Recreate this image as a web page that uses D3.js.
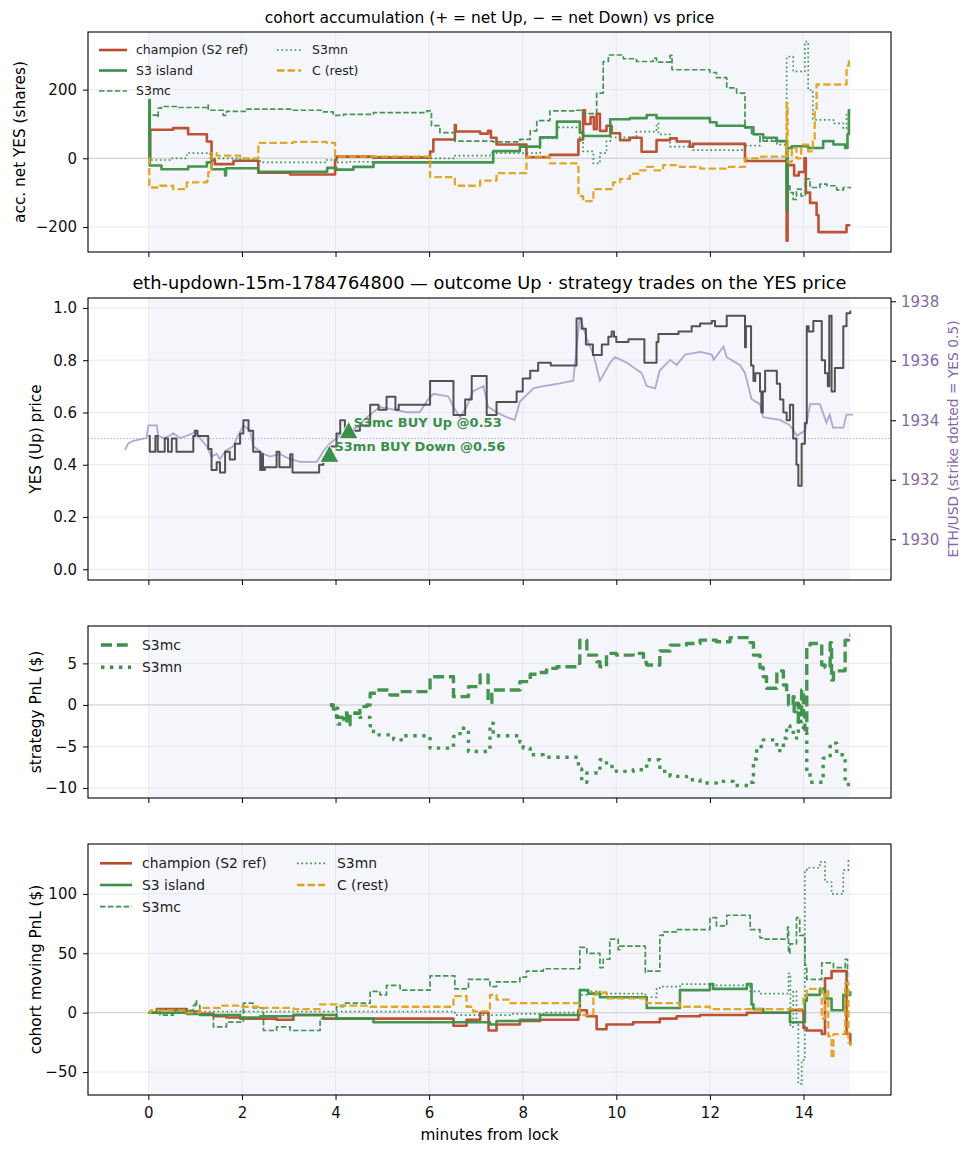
<!DOCTYPE html>
<html>
<head>
<meta charset="utf-8">
<script src="https://cdn.jsdelivr.net/npm/d3@7"></script>
<style>
    body { margin: 0; background: #fff; }
    text { font-family: "DejaVu Sans", sans-serif; }
</style>
</head>
<body>
<div id="chart"></div>
<script>
// ---- data (minutes from lock, value) ----
const minuteTicks = [0, 2, 4, 6, 8, 10, 12, 14];
const cohortNames = ['champion (S2 ref)', 'S3 island', 'S3mc', 'S3mn', 'C (rest)'];

// panel 1: accumulated net YES shares
const accChampion = [[0,0],[0.04,83],[0.53,88],[0.85,70],[1.25,49],[1.35,-5],[1.42,-17],[1.82,-7],[2.35,-42],[3.03,-47],[3.99,-5],[4.02,5],[4.81,2],[6.02,20],[6.09,55],[6.55,97],[6.57,78],[7.09,72],[7.26,80],[7.32,60],[7.44,40],[8.08,3],[8.58,10],[9.19,55],[9.29,140],[9.33,100],[9.45,120],[9.52,85],[9.58,130],[9.65,80],[9.79,95],[9.90,73],[10.08,53],[10.29,60],[10.54,19],[10.86,53],[11.15,58],[11.29,49],[11.57,34],[11.64,42],[12.75,-8],[13.64,-240],[13.66,-20],[13.80,-50],[13.90,-40],[14.02,0],[14.05,-100],[14.14,-130],[14.28,-165],[14.32,-215],[14.92,-195],[15.0,-195]];
const accIsland = [[0,0],[0.02,170],[0.03,-21],[0.28,-32],[0.85,-24],[1.25,-12],[1.35,-32],[1.64,-50],[1.66,-29],[2.35,-39],[3.82,-28],[4.02,-33],[4.38,-25],[4.81,-12],[7.37,21],[7.94,34],[8.37,61],[8.73,107],[9.22,75],[9.29,65],[9.87,114],[10.29,117],[10.65,126],[10.86,117],[12.0,105],[12.14,95],[12.75,90],[12.93,70],[13.14,60],[13.43,50],[13.64,-150],[13.66,30],[13.75,35],[14.10,30],[14.42,50],[14.64,40],[14.89,30],[14.94,70],[14.97,140],[15.0,140]];
const accS3mc = [[0,0],[0.03,126],[0.18,120],[0.21,146],[0.28,151],[0.60,148],[1.25,155],[1.28,140],[1.60,125],[1.67,137],[2.10,143],[3.10,140],[3.74,135],[3.95,125],[4.17,128],[4.81,133],[5.95,138],[6.05,95],[6.23,75],[6.55,50],[7.37,48],[7.94,55],[8.16,80],[8.30,110],[8.58,138],[9.15,140],[9.29,130],[9.58,190],[9.72,282],[9.83,301],[10.15,290],[10.43,282],[10.79,292],[10.86,280],[11.15,300],[11.19,258],[12.0,250],[12.14,235],[12.36,205],[12.57,190],[12.75,90],[12.89,70],[13.07,50],[13.64,-80],[13.71,-100],[13.78,-120],[13.85,-90],[13.95,-110],[14.04,-60],[14.14,-85],[14.35,-75],[14.50,-80],[14.71,-92],[14.85,-85],[15.0,-83]];
const accS3mn = [[0,0],[0.04,-5],[0.46,0],[0.82,15],[1.32,0],[1.96,-5],[2.39,-12],[3.81,-5],[4.02,-12],[4.31,-10],[4.81,5],[5.95,0],[6.55,8],[7.30,15],[8.37,58],[8.73,90],[9.22,50],[9.29,20],[9.51,-15],[9.65,15],[9.79,50],[9.87,61],[10.43,78],[10.86,102],[10.90,70],[11.15,34],[11.64,24],[12.75,37],[13.07,53],[13.43,40],[13.64,296],[13.78,253],[14.03,340],[14.10,199],[14.20,112],[14.64,102],[14.85,87],[14.92,131],[15.0,131]];
const accC = [[0,0],[0.02,-85],[0.25,-80],[0.53,-90],[0.82,-70],[1.25,-65],[1.28,-40],[1.35,15],[1.46,8],[1.96,0],[2.35,45],[3.10,48],[3.81,45],[3.99,5],[6.02,-55],[6.55,-80],[7.09,-65],[7.44,-43],[8.08,5],[8.58,-15],[9.19,-110],[9.29,-125],[9.51,-90],[9.93,-70],[10.08,-60],[10.29,-45],[10.50,-35],[10.65,-25],[10.79,-35],[11.0,-20],[11.36,-25],[11.79,-30],[12.36,-25],[12.75,0],[13.07,5],[13.64,160],[13.66,-10],[13.75,30],[13.85,0],[13.95,40],[14.10,20],[14.20,50],[14.24,140],[14.28,215],[14.92,270],[14.97,290],[15.0,290]];

// panel 2: YES price and ETH/USD
const yesPrice = [[0,0.51],[0.03,0.45],[0.15,0.51],[0.20,0.45],[0.35,0.50],[0.42,0.45],[0.50,0.50],[0.60,0.45],[0.96,0.51],[1.0,0.53],[1.05,0.51],[1.28,0.46],[1.35,0.38],[1.46,0.41],[1.53,0.37],[1.64,0.45],[1.74,0.42],[1.85,0.48],[1.96,0.52],[2.03,0.57],[2.14,0.53],[2.24,0.45],[2.39,0.38],[2.42,0.44],[2.45,0.38],[2.49,0.39],[2.74,0.45],[2.80,0.39],[3.03,0.44],[3.08,0.37],[3.65,0.40],[3.74,0.43],[3.88,0.47],[4.02,0.52],[4.10,0.57],[4.20,0.53],[4.52,0.55],[4.74,0.63],[4.92,0.61],[5.09,0.66],[5.28,0.61],[5.35,0.63],[6.02,0.72],[6.52,0.59],[6.77,0.65],[6.91,0.74],[7.23,0.59],[7.44,0.64],[7.87,0.68],[8.0,0.73],[8.16,0.76],[8.33,0.79],[8.60,0.78],[9.15,0.96],[9.26,0.92],[9.35,0.86],[9.50,0.82],[9.69,0.86],[9.83,0.89],[9.90,0.91],[9.95,0.89],[10.0,0.87],[10.26,0.88],[10.60,0.79],[10.86,0.87],[10.90,0.90],[11.33,0.91],[11.61,0.93],[11.79,0.94],[12.04,0.95],[12.11,0.93],[12.36,0.97],[12.75,0.85],[12.77,0.93],[12.88,0.78],[12.93,0.72],[12.97,0.75],[13.07,0.68],[13.10,0.60],[13.13,0.68],[13.18,0.76],[13.43,0.71],[13.50,0.65],[13.57,0.60],[13.64,0.57],[13.71,0.63],[13.78,0.50],[13.85,0.40],[13.89,0.32],[13.96,0.48],[14.03,0.56],[14.07,0.93],[14.11,0.91],[14.21,0.95],[14.39,0.80],[14.46,0.75],[14.52,0.70],[14.55,0.97],[14.60,0.68],[14.67,0.77],[14.85,0.93],[14.92,0.98],[15.0,0.99]];
const ethUsd = [[-0.50,1933.00],[-0.43,1933.22],[-0.32,1933.31],[-0.04,1933.40],[0.0,1933.83],[0.18,1933.83],[0.21,1933.48],[0.32,1933.40],[0.46,1933.48],[0.53,1933.57],[0.68,1933.40],[0.82,1933.48],[0.96,1933.57],[1.0,1933.66],[1.10,1933.40],[1.25,1933.13],[1.35,1932.78],[1.46,1932.87],[1.53,1932.69],[1.64,1932.96],[1.82,1933.13],[1.89,1933.40],[2.03,1933.83],[2.17,1933.66],[2.24,1933.13],[2.46,1932.87],[2.60,1932.78],[2.81,1932.87],[3.03,1932.69],[3.24,1932.60],[3.60,1932.60],[3.74,1932.96],[3.88,1933.22],[4.02,1933.40],[4.24,1933.66],[4.45,1933.75],[4.67,1934.10],[4.95,1934.45],[5.24,1934.36],[5.52,1934.27],[5.80,1934.27],[5.98,1934.71],[6.09,1934.89],[6.41,1934.80],[6.52,1934.45],[6.66,1934.10],[6.80,1934.45],[6.94,1934.98],[7.16,1935.15],[7.26,1934.45],[7.44,1934.27],[7.66,1934.10],[7.83,1934.01],[7.94,1934.63],[8.23,1935.07],[8.44,1935.15],[8.80,1935.24],[9.08,1935.33],[9.22,1937.48],[9.37,1936.74],[9.51,1936.21],[9.65,1935.33],[9.87,1935.94],[9.97,1936.12],[10.22,1935.94],[10.54,1935.59],[10.65,1935.15],[10.83,1935.07],[10.93,1935.68],[11.15,1936.03],[11.29,1935.86],[11.47,1936.21],[11.80,1936.30],[12.04,1936.21],[12.08,1936.03],[12.29,1936.47],[12.36,1936.12],[12.64,1935.86],[12.75,1935.59],[12.89,1934.71],[13.07,1934.54],[13.14,1934.10],[13.50,1934.01],[13.71,1933.83],[13.86,1933.48],[14.04,1933.66],[14.14,1934.54],[14.35,1934.54],[14.49,1933.92],[14.56,1934.19],[14.63,1933.75],[14.85,1933.75],[14.92,1934.19],[15.06,1934.19]];
const strikeYes = 0.5;
const trades = [
    { t: 3.87, p: 0.44, label: 'S3mn BUY Down @0.56' },
    { t: 4.28, p: 0.53, label: 'S3mc BUY Up @0.53' }
];

// panel 3: strategy PnL ($)
const pnlStratS3mc = [[3.88,0],[3.95,-0.5],[4.02,-1.5],[4.17,-1.0],[4.24,-2.4],[4.31,-1.0],[4.52,-0.2],[4.67,0],[4.74,1.4],[4.88,1.8],[5.16,1.2],[5.38,1.6],[6.02,3.4],[6.52,1.0],[6.84,2.2],[7.09,3.6],[7.26,0.3],[7.34,1.8],[7.94,2.8],[8.16,3.7],[8.30,3.9],[8.51,4.4],[8.73,4.6],[9.15,5.0],[9.22,7.8],[9.37,6.0],[9.58,5.2],[9.65,4.6],[9.79,6.2],[10.0,6.0],[10.36,6.2],[10.58,5.1],[10.65,4.8],[10.93,6.5],[11.15,7.2],[11.50,7.4],[11.79,7.8],[12.14,7.6],[12.43,8.1],[12.86,7.5],[12.93,6.0],[13.07,4.5],[13.14,3.4],[13.21,2.0],[13.43,4.1],[13.57,2.4],[13.64,1.6],[13.68,0],[13.78,1.0],[13.80,-0.8],[13.85,0.2],[13.89,-2],[13.96,1.8],[14.0,-1],[14.03,-3],[14.07,7.0],[14.14,7.4],[14.39,4.8],[14.46,4.5],[14.57,7.5],[14.60,3.0],[14.64,4.1],[14.89,7.8],[14.96,8.4],[15.0,8.4]];
const pnlStratS3mn = [[3.88,0],[3.95,-0.4],[4.05,-2.3],[4.17,-1.0],[4.52,-1.5],[4.74,-2.5],[4.81,-3.6],[5.24,-4.2],[5.45,-3.7],[6.02,-5.2],[6.52,-3.8],[6.66,-2.8],[6.84,-5.6],[7.30,-2.2],[7.37,-3.7],[7.94,-4.5],[8.01,-5.2],[8.16,-6.0],[8.44,-6.3],[9.19,-7.7],[9.26,-9.3],[9.37,-8.2],[9.65,-6.6],[9.79,-7.4],[10.0,-8.0],[10.36,-7.8],[10.65,-6.6],[10.93,-8.0],[11.15,-8.6],[11.50,-9.0],[11.79,-9.4],[12.14,-9.2],[12.50,-9.7],[12.86,-9.3],[12.93,-6.5],[13.0,-5.0],[13.14,-4.2],[13.43,-5.5],[13.57,-4.0],[13.64,-2.5],[13.71,-3.3],[13.85,-4],[13.89,0],[13.92,-2],[14.0,-3.3],[14.07,-8.2],[14.14,-9.3],[14.42,-6.4],[14.57,-4.6],[14.71,-6.0],[14.89,-9.2],[14.96,-10.1],[15.0,-10.1]];

// panel 4: cohort moving PnL ($)
const pnlChampion = [[0,0],[0.18,3],[0.82,1],[1.10,-1],[1.39,-3],[1.67,-4],[1.96,-5],[2.74,-6],[3.10,-2],[3.74,-5],[6.52,-11],[6.80,-6],[7.09,0],[7.27,-15],[7.44,-10],[7.94,-7],[8.37,-6],[9.19,2],[9.37,-3],[9.58,-14],[9.79,-10],[10.36,-8],[10.93,-5],[11.29,-3],[11.79,-2],[12.79,0],[13.71,2],[14.0,-13],[14.07,-15],[14.39,-18],[14.46,29],[14.60,35],[14.92,-18],[15.0,-27]];
const pnlIsland = [[0,0],[0.82,-1],[1.10,-2],[1.96,-4],[2.39,-3],[3.10,-2],[4.02,-5],[4.81,-8],[7.30,-10],[7.44,-7],[7.94,-6],[8.37,-2],[9.22,19],[9.40,16],[9.65,13],[10.65,4],[11.36,19],[12.0,24],[12.07,20],[12.79,24],[12.89,7],[12.93,3],[13.14,0],[13.71,-8],[14.03,10],[14.07,15],[14.35,20],[14.46,12],[14.60,2],[14.85,15],[15.0,18]];
const pnlS3mc = [[0,0],[0.18,3],[0.25,-2],[0.53,2],[0.96,6],[1.0,10],[1.03,6],[1.10,-2],[1.39,-12],[1.67,-8],[2.03,8],[2.24,4],[2.46,-15],[2.74,-12],[3.03,-15],[3.67,-5],[4.02,5],[4.17,8],[4.74,18],[4.95,15],[5.09,23],[5.38,19],[6.02,31],[6.55,20],[6.84,28],[7.30,22],[7.44,26],[7.94,30],[8.08,35],[8.44,37],[9.22,55],[9.37,50],[9.65,38],[9.72,45],[9.86,62],[10.04,53],[10.07,56],[10.62,34],[10.65,35],[10.93,65],[11.0,68],[11.29,70],[12.0,80],[12.14,73],[12.36,82],[12.86,70],[13.07,63],[13.14,62],[13.66,72],[13.68,50],[13.71,58],[13.85,80],[13.92,65],[14.03,40],[14.07,28],[14.39,42],[14.64,38],[14.89,45],[14.94,15],[15.0,15]];
const pnlS3mn = [[0,0],[0.50,1],[2.0,1],[6.55,-2],[7.73,-1],[8.50,0],[9.22,15],[9.37,18],[9.65,16],[10.62,13],[10.86,20],[10.93,22],[11.36,24],[12.07,23],[12.86,18],[13.07,16],[13.68,33],[13.72,-12],[13.78,18],[13.85,-10],[13.89,-60],[13.96,-40],[14.03,120],[14.07,122],[14.35,127],[14.46,110],[14.60,100],[14.85,120],[14.96,128],[15.0,128]];
const pnlC = [[0,0],[0.05,2],[0.82,0],[1.10,4],[1.53,6],[1.96,5],[2.39,4],[3.10,3],[3.67,7],[4.02,6],[4.74,5],[6.52,14],[6.80,5],[6.94,1],[7.30,15],[7.44,11],[7.73,8],[9.22,-2],[9.51,15],[9.58,17],[9.79,12],[10.65,8],[11.36,5],[12.0,3],[14.0,14],[14.07,20],[14.39,-5],[14.46,18],[14.53,-20],[14.60,-38],[14.64,-18],[14.89,25],[14.96,-25],[15.0,-28]];

(function () {
    'use strict';

    const W = 973, H = 1156;
    const green = '#3b8f48';
    const styles = [
        { color: '#b84a2b', width: 2.6, dash: null },
        { color: green, width: 2.6, dash: null },
        { color: green, width: 1.7, dash: '5.5,2.4' },
        { color: green, width: 1.7, dash: '1.7,2.7' },
        { color: '#e0a21c', width: 2.3, dash: '7.4,3.2' }
    ];

    const svg = d3.select('#chart').append('svg')
        .attr('width', W).attr('height', H);

    const x = d3.scaleLinear().domain([-1.29, 15.87]).range([88, 891]);

    let clipId = 0;

    function makePanel(top, bottom, domain, ticks, fmt, label, labelX, showX) {
        const y = d3.scaleLinear().domain(domain).range([bottom, top]);
        const g = svg.append('g');

        g.append('rect')
            .attr('x', x(0)).attr('y', top)
            .attr('width', x(15) - x(0)).attr('height', bottom - top)
            .attr('fill', '#f4f6fb');

        const grid = g.append('g').attr('stroke', '#e3e5ea').attr('stroke-width', 0.8);
        grid.selectAll('line.v').data(minuteTicks).join('line')
            .attr('x1', d => x(d)).attr('x2', d => x(d))
            .attr('y1', top).attr('y2', bottom);
        grid.selectAll('line.h').data(ticks).join('line')
            .attr('x1', 88).attr('x2', 891)
            .attr('y1', d => y(d)).attr('y2', d => y(d));

        const id = 'clip' + (clipId++);
        svg.append('clipPath').attr('id', id)
            .append('rect').attr('x', 88).attr('y', top)
            .attr('width', 891 - 88).attr('height', bottom - top);
        const plot = g.append('g').attr('clip-path', `url(#${id})`);

        const yAxis = g.append('g')
            .attr('transform', 'translate(88,0)')
            .call(d3.axisLeft(y).tickValues(ticks).tickFormat(fmt).tickSize(5).tickPadding(6));
        yAxis.select('.domain').remove();
        yAxis.selectAll('text').attr('font-size', 15).attr('fill', '#111');

        const xAxis = g.append('g')
            .attr('transform', `translate(0,${bottom})`)
            .call(d3.axisBottom(x).tickValues(minuteTicks).tickSize(5).tickPadding(7)
                .tickFormat(showX ? d3.format('d') : ''));
        xAxis.select('.domain').remove();
        xAxis.selectAll('text').attr('font-size', 15).attr('fill', '#111');

        g.append('text')
            .attr('transform', `translate(${labelX},${(top + bottom) / 2}) rotate(-90)`)
            .attr('text-anchor', 'middle')
            .attr('font-size', 15.3)
            .text(label);

        return { g, plot, y, top, bottom, frame: () => g.append('rect')
            .attr('x', 88).attr('y', top).attr('width', 891 - 88).attr('height', bottom - top)
            .attr('fill', 'none').attr('stroke', '#000').attr('stroke-width', 1.1) };
    }

    function stepLine(plot, y, data, st) {
        const line = d3.line().x(d => x(d[0])).y(d => y(d[1])).curve(d3.curveStepAfter);
        plot.append('path')
            .datum(data)
            .attr('d', line)
            .attr('fill', 'none')
            .attr('stroke', st.color)
            .attr('stroke-width', st.width)
            .attr('stroke-dasharray', st.dash)
            .attr('stroke-linejoin', 'round')
            .attr('opacity', st.opacity || 0.95);
    }

    function zeroLine(p) {
        p.plot.append('line')
            .attr('x1', 88).attr('x2', 891)
            .attr('y1', p.y(0)).attr('y2', p.y(0))
            .attr('stroke', '#cfcfcf').attr('stroke-width', 1);
    }

    function legend(g, entries, top, fontSize, cols) {
        entries.forEach(e => {
            const c = cols[e.col];
            const yy = top + e.row * c.rowH;
            g.append('line')
                .attr('x1', c.x1).attr('x2', c.x2)
                .attr('y1', yy).attr('y2', yy)
                .attr('stroke', e.st.color)
                .attr('stroke-width', e.st.width)
                .attr('stroke-dasharray', e.st.dash);
            g.append('text')
                .attr('x', c.tx).attr('y', yy)
                .attr('dy', '0.35em')
                .attr('font-size', fontSize)
                .attr('fill', '#222')
                .text(e.name);
        });
    }

    const fmtInt = d3.format('d');
    const cohortSeries1 = [accChampion, accIsland, accS3mc, accS3mn, accC];
    const cohortSeries4 = [pnlChampion, pnlIsland, pnlS3mc, pnlS3mn, pnlC];
    const legendPlace = [[0, 0], [0, 1], [0, 2], [1, 0], [1, 1]];

    // ---- panel 1 ----
    const p1 = makePanel(32, 252, [-273, 368], [-200, 0, 200], fmtInt, 'acc. net YES (shares)', 25, false);
    zeroLine(p1);
    cohortSeries1.forEach((s, i) => stepLine(p1.plot, p1.y, s, styles[i]));
    p1.frame();
    legend(p1.g, cohortNames.map((n, i) => ({ name: n, st: styles[i], col: legendPlace[i][0], row: legendPlace[i][1] })),
        50, 12.5, [{ x1: 99, x2: 127, tx: 136, rowH: 20.5 }, { x1: 277, x2: 301, tx: 312, rowH: 20.5 }]);
    svg.append('text')
        .attr('x', 489.5).attr('y', 22.5)
        .attr('text-anchor', 'middle').attr('font-size', 15.5)
        .text('cohort accumulation (+ = net Up, \u2212 = net Down) vs price');

    // ---- panel 2 ----
    const p2 = makePanel(298, 580, [-0.041, 1.038], [0, 0.2, 0.4, 0.6, 0.8, 1.0], d3.format('.1f'), 'YES (Up) price', 40.5, false);
    const yEth = d3.scaleLinear().domain([1928.63, 1938.11]).range([580, 298]);
    const purple = '#8867a8';
    p2.plot.append('path')
        .datum(ethUsd)
        .attr('d', d3.line().x(d => x(d[0])).y(d => yEth(d[1])))
        .attr('fill', 'none').attr('stroke', '#b4a5d2').attr('stroke-width', 1.8);
    p2.plot.append('line')
        .attr('x1', 88).attr('x2', 891)
        .attr('y1', p2.y(strikeYes)).attr('y2', p2.y(strikeYes))
        .attr('stroke', '#a99bc4').attr('stroke-width', 1).attr('stroke-dasharray', '1.2,2');
    stepLine(p2.plot, p2.y, yesPrice, { color: '#444', width: 2, dash: null, opacity: 0.92 });

    const tri = 9.5;
    p2.plot.selectAll('path.trade').data(trades).join('path')
        .attr('d', `M0,${-tri}L${-tri},${tri * 0.85}L${tri},${tri * 0.85}Z`)
        .attr('transform', d => `translate(${x(d.t)},${p2.y(d.p)})`)
        .attr('fill', '#3a8f4a').attr('stroke', '#fff').attr('stroke-width', 1);
    p2.plot.selectAll('text.trade').data(trades).join('text')
        .attr('x', d => x(d.t) + 5)
        .attr('y', d => p2.y(d.p) - 3.5)
        .attr('font-size', 13).attr('font-weight', 'bold')
        .attr('fill', '#3a8f4a')
        .text(d => d.label);

    const rAxis = p2.g.append('g')
        .attr('transform', 'translate(891,0)')
        .call(d3.axisRight(yEth).tickValues([1930, 1932, 1934, 1936, 1938]).tickFormat(fmtInt).tickSize(5).tickPadding(5));
    rAxis.select('.domain').remove();
    rAxis.selectAll('line').attr('stroke', '#000');
    rAxis.selectAll('text').attr('font-size', 15).attr('fill', purple);
    p2.g.append('text')
        .attr('transform', 'translate(958,439) rotate(-90)')
        .attr('text-anchor', 'middle').attr('font-size', 13.8).attr('fill', purple)
        .text('ETH/USD (strike dotted = YES 0.5)');
    p2.frame();
    svg.append('text')
        .attr('x', 489.5).attr('y', 288.5)
        .attr('text-anchor', 'middle').attr('font-size', 17.8)
        .text('eth-updown-15m-1784764800 \u2014 outcome Up \u00b7 strategy trades on the YES price');

    // ---- panel 3 ----
    const p3 = makePanel(626, 798, [-11.2, 9.5], [-10, -5, 0, 5], fmtInt, 'strategy PnL ($)', 40.5, false);
    zeroLine(p3);
    const stratStyles = [
        { color: green, width: 3.4, dash: '11,4.8' },
        { color: green, width: 3.4, dash: '3.4,5.6' }
    ];
    stepLine(p3.plot, p3.y, pnlStratS3mc, stratStyles[0]);
    stepLine(p3.plot, p3.y, pnlStratS3mn, stratStyles[1]);
    p3.frame();
    legend(p3.g, [{ name: 'S3mc', st: stratStyles[0], col: 0, row: 0 }, { name: 'S3mn', st: stratStyles[1], col: 0, row: 1 }],
        645, 13.9, [{ x1: 101, x2: 131, tx: 142, rowH: 22.3 }]);

    // ---- panel 4 ----
    const p4 = makePanel(844, 1095, [-69.3, 142], [-50, 0, 50, 100], fmtInt, 'cohort moving PnL ($)', 40.5, true);
    zeroLine(p4);
    cohortSeries4.forEach((s, i) => stepLine(p4.plot, p4.y, s, styles[i]));
    p4.frame();
    legend(p4.g, cohortNames.map((n, i) => ({ name: n, st: styles[i], col: legendPlace[i][0], row: legendPlace[i][1] })),
        863.3, 13.9, [{ x1: 100, x2: 132, tx: 142, rowH: 21.7 }, { x1: 297, x2: 325, tx: 337, rowH: 21.7 }]);
    svg.append('text')
        .attr('x', 489.5).attr('y', 1140)
        .attr('text-anchor', 'middle').attr('font-size', 15.3)
        .text('minutes from lock');
})();
</script>
</body>
</html>
